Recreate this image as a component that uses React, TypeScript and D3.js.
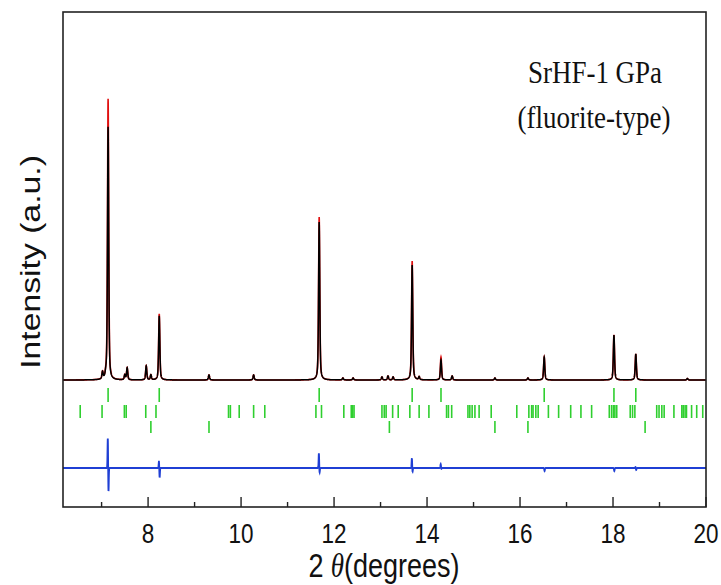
import React from "react";
import * as d3 from "d3";

// ---- Data ----
// Reflections of the fitted pattern: position (2θ, deg), observed and calculated heights (a.u.)
const peakPos = [7.02, 7.09, 7.14, 7.5, 7.55, 7.96, 8.06, 8.24, 9.31, 10.27, 11.68, 12.19, 12.41, 13.03, 13.16, 13.27, 13.68, 13.83, 14.3, 14.54, 15.46, 16.17, 16.52, 18.02, 18.49, 19.6];
const obsHeight = [7, 3, 281, 5, 12, 14, 5, 66, 5, 5, 163, 2, 2, 3, 4, 3, 119, 3, 23, 4, 2, 2, 23, 45, 26, 1.5];
const calcHeight = [7, 3, 253, 5, 12, 14, 5, 64, 5, 5, 158, 2, 2, 3, 4, 3, 115, 3, 20, 4, 2, 2, 23, 45, 26, 1.5];

// Difference curve features: position, positive swing, negative swing
const diffPos = [7.14, 8.24, 11.68, 13.68, 14.3, 16.52, 18.02, 18.49];
const diffUp = [31, 7, 15, 10, 4, 0, 0, 1];
const diffDown = [25, 10, 5, 4, 1, 3, 3, 2];

// Bragg reflection tick rows
const ticksPhase1 = [7.14, 8.24, 11.68, 13.68, 14.3, 16.52, 18.02, 18.49];
const ticksPhase2 = [6.54, 7.01, 7.49, 7.53, 7.95, 8.17, 9.73, 9.77, 9.96, 10.27, 10.51, 11.61, 11.73, 12.21, 12.37, 12.4, 12.43, 13.03, 13.08, 13.12, 13.26, 13.38, 13.63, 13.83, 14.04, 14.42, 14.46, 14.53, 14.88, 14.92, 14.97, 15.03, 15.12, 15.38, 15.93, 16.19, 16.25, 16.28, 16.34, 16.39, 16.61, 16.83, 17.09, 17.31, 17.54, 17.92, 17.97, 18.01, 18.04, 18.08, 18.37, 18.42, 18.47, 18.94, 18.99, 19.05, 19.1, 19.31, 19.48, 19.51, 19.55, 19.58, 19.69, 19.8, 19.93];
const ticksPhase3 = [8.06, 9.31, 13.19, 15.46, 16.17, 18.69];

const xTickLabels = [8, 10, 12, 14, 16, 18, 20];
const xTicksAll = [7, 8, 9, 10, 11, 12, 13, 14, 15, 16, 17, 18, 19, 20];

const X_DOMAIN = [6.17, 20];
const Y_DOMAIN = [-127, 368];

// layout
const W = 721, H = 585;
const L = 63, R = 706, T = 12, B = 507;

function profile(x: number, heights: number[]): number {
  const fwhm = 0.03;
  const eta = 0.5;
  const sig = fwhm / 2.3548;
  let s = 0;
  for (let i = 0; i < peakPos.length; i++) {
    const d = x - peakPos[i];
    const g = Math.exp(-(d * d) / (2 * sig * sig));
    const l = 1 / (1 + (2 * d / fwhm) ** 2);
    s += heights[i] * (eta * l + (1 - eta) * g);
  }
  return s;
}

function diffProfile(x: number): number {
  const sig = 0.006;
  let s = 0;
  for (let i = 0; i < diffPos.length; i++) {
    const d1 = x - (diffPos[i] - 0.006);
    const d2 = x - (diffPos[i] + 0.008);
    s += diffUp[i] * Math.exp(-(d1 * d1) / (2 * sig * sig));
    s -= diffDown[i] * Math.exp(-(d2 * d2) / (2 * sig * sig));
  }
  return s;
}

const DIFF_OFFSET = -88;

export default function App() {
  const x = d3.scaleLinear().domain(X_DOMAIN).range([L, R]);
  const y = d3.scaleLinear().domain(Y_DOMAIN).range([B, T]);

  const xs = d3.range(X_DOMAIN[0], X_DOMAIN[1] + 1e-9, 0.002);
  const obs = xs.map((v) => [v, profile(v, obsHeight)] as [number, number]);
  const calc = xs.map((v) => [v, profile(v, calcHeight)] as [number, number]);
  const diff = xs.map((v) => [v, DIFF_OFFSET + diffProfile(v)] as [number, number]);

  const line = d3
    .line<[number, number]>()
    .x((d) => x(d[0]))
    .y((d) => y(d[1]));

  const rows: [number[], number, number][] = [
    [ticksPhase1, -8, -22],
    [ticksPhase2, -25, -38],
    [ticksPhase3, -41, -53],
  ];

  const green = "#2fcf2f";
  const sy = 1.25;

  return (
    <svg width={W} height={H} style={{ position: "absolute", left: 0, top: 0, background: "#fff" }}>
      <rect x={0} y={0} width={W} height={H} fill="#fff" />
      {rows.map(([arr, y1, y2], ri) =>
        arr.map((p, i) => (
          <line key={`t${ri}-${i}`} x1={x(p)} x2={x(p)} y1={y(y1)} y2={y(y2)} stroke={green} strokeWidth={1.6} />
        ))
      )}
      <path d={line(diff) || ""} fill="none" stroke="#1f3fd4" strokeWidth={1.8} />
      <path d={line(obs) || ""} fill="none" stroke="#e01010" strokeWidth={1.6} />
      <path d={line(calc) || ""} fill="none" stroke="#000" strokeWidth={1.5} />

      <rect x={L} y={T} width={R - L} height={B - T} fill="none" stroke="#222" strokeWidth={1.6} />
      {xTicksAll.map((t) => (
        <line key={`xt${t}`} x1={x(t)} x2={x(t)} y1={B} y2={B - (t % 2 === 0 ? 10 : 5)} stroke="#222" strokeWidth={1.4} />
      ))}
      {xTickLabels.map((t) => (
        <text
          key={`xl${t}`}
          transform={`translate(${x(t)},${543}) scale(1,${sy})`}
          textAnchor="middle"
          fontFamily="Liberation Sans, Arial, sans-serif"
          fontSize={22.5}
          fill="#111"
        >
          {t}
        </text>
      ))}
      <text
        transform={`translate(384,577) scale(1,${sy})`}
        textAnchor="middle"
        fontFamily="Liberation Sans, Arial, sans-serif"
        fontSize={27}
        fill="#111"
      >
        <tspan>2</tspan>
        <tspan fontStyle="italic" fontFamily="Liberation Serif, Times New Roman, serif" dx={7}>θ</tspan>
        <tspan>(degrees)</tspan>
      </text>
      <text
        transform={`translate(40,262) scale(1,${sy}) rotate(-90)`}
        textAnchor="middle"
        fontFamily="Liberation Sans, Arial, sans-serif"
        fontSize={27}
        fill="#111"
      >
        Intensity (a.u.)
      </text>
      <text
        transform={`translate(595,83) scale(1,1.15)`}
        textAnchor="middle"
        fontFamily="Liberation Serif, Times New Roman, serif"
        fontSize={27}
        fill="#111"
      >
        SrHF-1 GPa
      </text>
      <text
        transform={`translate(594,128) scale(1,1.15)`}
        textAnchor="middle"
        fontFamily="Liberation Serif, Times New Roman, serif"
        fontSize={27}
        fill="#111"
      >
        (fluorite-type)
      </text>
    </svg>
  );
}
